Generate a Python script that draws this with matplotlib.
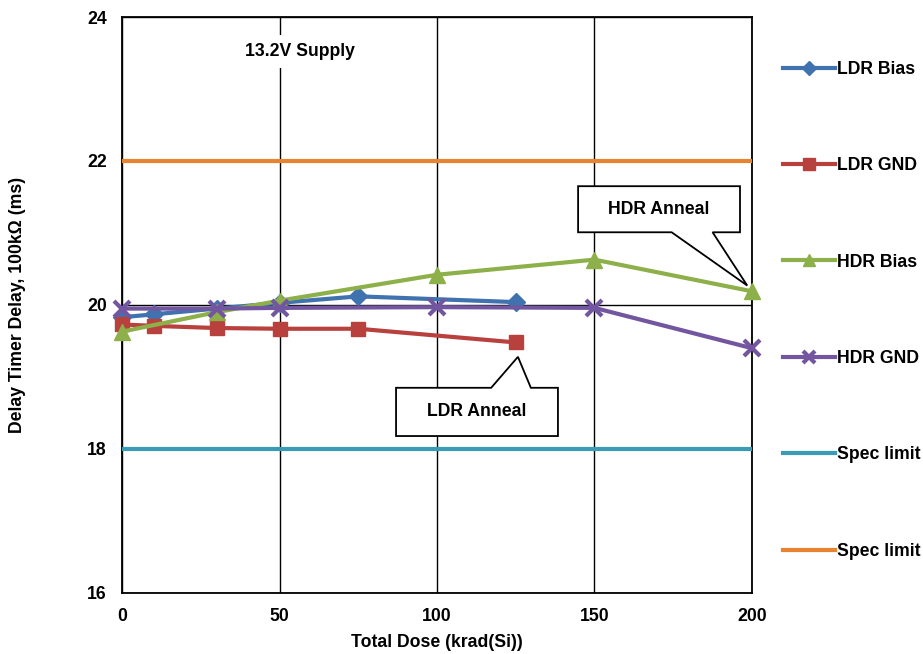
import matplotlib
matplotlib.use("Agg")
import matplotlib.pyplot as plt
from matplotlib.patches import Polygon

plt.rcParams['font.family'] = ['Liberation Sans', 'DejaVu Sans']
plt.rcParams['font.weight'] = 'bold'

# data
ldr_bias_x = [0, 10, 30, 50, 75, 125]
ldr_bias_y = [19.83, 19.87, 19.95, 20.03, 20.12, 20.04]
ldr_gnd_x = [0, 10, 30, 50, 75, 125]
ldr_gnd_y = [19.73, 19.71, 19.68, 19.67, 19.67, 19.48]

hdr_x = [0, 30, 50, 100, 150, 200]
hdr_bias = [19.63, 19.90, 20.06, 20.42, 20.63, 20.19]
hdr_gnd = [19.95, 19.95, 19.96, 19.97, 19.96, 19.40]

spec_x = [0, 200]
spec_low = [18, 18]
spec_high = [22, 22]

x_ticks = [0, 50, 100, 150, 200]
y_ticks = [16, 18, 20, 22, 24]

c_blue = '#3f72af'
c_red = '#b8403d'
c_green = '#8db04a'
c_purple = '#7356a0'
c_teal = '#3a9bb4'
c_orange = '#e8832f'

FS = 12.7

fig = plt.figure(figsize=(9.23, 6.54), dpi=100)
ax = fig.add_axes([0.1322, 0.0933, 0.6825, 0.8807])

lw = 3.0
l1, = ax.plot(ldr_bias_x, ldr_bias_y, color=c_blue, lw=lw, marker='D', ms=9, label='LDR Bias', zorder=4, clip_on=False)
l2, = ax.plot(ldr_gnd_x, ldr_gnd_y, color=c_red, lw=lw, marker='s', ms=10.5, label='LDR GND', zorder=4, clip_on=False)
l3, = ax.plot(hdr_x, hdr_bias, color=c_green, lw=lw, marker='^', ms=11, label='HDR Bias', zorder=4, clip_on=False)
l4, = ax.plot(hdr_x, hdr_gnd, color=c_purple, lw=lw, marker='x', ms=11, mew=3, label='HDR GND', zorder=4, clip_on=False)
l5, = ax.plot(spec_x, spec_low, color=c_teal, lw=lw, label='Spec limit', zorder=3)
l6, = ax.plot(spec_x, spec_high, color=c_orange, lw=lw, label='Spec limit', zorder=3)

ax.set_xlim(0, 200)
ax.set_ylim(16, 24)
ax.set_xticks(x_ticks)
ax.set_yticks(y_ticks)
ax.grid(True, color='black', lw=1.0, zorder=1)
ax.set_axisbelow(True)
ax.tick_params(length=0, labelsize=FS)
ax.tick_params(axis='y', pad=11)
ax.tick_params(axis='x', pad=10.5)
for sp in ax.spines.values():
    sp.set_linewidth(1.3)
    sp.set_color('black')

ax.set_xlabel('Total Dose (krad(Si))', fontsize=FS, fontweight='bold', labelpad=6.5)
ax.set_ylabel('Delay Timer Delay, 100k\u03a9 (ms)', fontsize=FS, fontweight='bold', labelpad=44)

ax.text(56.5, 23.52, '13.2V Supply', ha='center', va='center', fontsize=FS, fontweight='bold',
        bbox=dict(facecolor='white', edgecolor='none', pad=6), zorder=5)


def callout(x0, x1, y0, y1, wx0, wx1, tip, bottom, text):
    if bottom:
        pts = [(x0, y1), (x1, y1), (x1, y0), (wx1, y0), tip, (wx0, y0), (x0, y0)]
    else:
        pts = [(x0, y1), (wx0, y1), tip, (wx1, y1), (x1, y1), (x1, y0), (x0, y0)]
    ax.add_patch(Polygon(pts, closed=True, facecolor='white', edgecolor='black', lw=1.3, zorder=6))
    ax.text((x0 + x1) / 2, (y0 + y1) / 2, text, ha='center', va='center', fontsize=FS,
            fontweight='bold', zorder=7)


# HDR Anneal: wedge at bottom pointing to last HDR Bias point
callout(144.8, 196.2, 21.01, 21.65, 174.5, 187.5, (hdr_x[-1] - 1.5, hdr_bias[-1] + 0.08), True, 'HDR Anneal')
# LDR Anneal: wedge at top pointing to last LDR GND point
callout(87.0, 138.4, 18.18, 18.85, 117.2, 129.8, (ldr_gnd_x[-1] + 0.7, ldr_gnd_y[-1] - 0.2), False, 'LDR Anneal')

fig.legend(handles=[l1, l2, l3, l4, l5, l6], loc='upper left', bbox_to_anchor=(0.848, 0.907),
           frameon=False, fontsize=FS, labelspacing=4.5, handlelength=2.95, handletextpad=0.15,
           borderaxespad=0, borderpad=0, markerscale=0.8)

fig.savefig('out.png', dpi=100)
